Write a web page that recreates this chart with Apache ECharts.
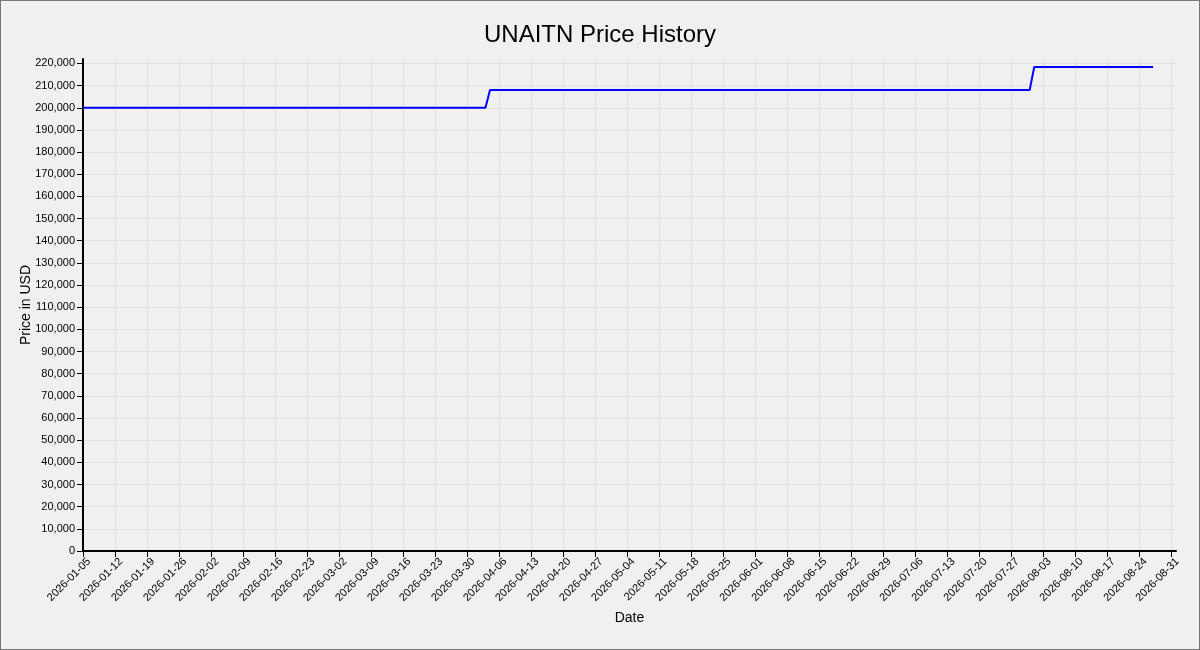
<!DOCTYPE html>
<html>
<head>
<meta charset="utf-8">
<script src="https://cdn.jsdelivr.net/npm/echarts@6/dist/echarts.min.js"></script>
<style>
  html, body { margin: 0; padding: 0; background: #f0f0f0; }
  #frame { width: 1200px; height: 650px; box-sizing: border-box; border: 1px solid #777; position: relative; overflow: hidden; }
  #chart { position: absolute; left: -1px; top: -1px; width: 1200px; height: 650px; }
</style>
</head>
<body>
<div id="frame"><div id="chart"></div></div>
<script>
// ---- data ----
const dates = ['2026-01-05', '2026-04-03', '2026-04-04', '2026-07-31', '2026-08-01', '2026-08-27'];
const prices = [200000, 200000, 208000, 208000, 218400, 218400];

const xTickLabels = [
  '2026-01-05','2026-01-12','2026-01-19','2026-01-26','2026-02-02','2026-02-09','2026-02-16','2026-02-23',
  '2026-03-02','2026-03-09','2026-03-16','2026-03-23','2026-03-30','2026-04-06','2026-04-13','2026-04-20',
  '2026-04-27','2026-05-04','2026-05-11','2026-05-18','2026-05-25','2026-06-01','2026-06-08','2026-06-15',
  '2026-06-22','2026-06-29','2026-07-06','2026-07-13','2026-07-20','2026-07-27','2026-08-03','2026-08-10',
  '2026-08-17','2026-08-24','2026-08-31'
];
const yTicks = [0,10000,20000,30000,40000,50000,60000,70000,80000,90000,100000,110000,
  120000,130000,140000,150000,160000,170000,180000,190000,200000,210000,220000];

const xMin = '2026-01-05';
const xMax = '2026-09-01';
const yMax = 222000;

const FONT = "'Liberation Sans', Arial, Helvetica, sans-serif";

// day index counted from the first date (UTC, no time-zone drift)
function dayIndex(s) {
  const p = s.split('-').map(Number);
  const q = xMin.split('-').map(Number);
  return Math.round((Date.UTC(p[0], p[1] - 1, p[2]) - Date.UTC(q[0], q[1] - 1, q[2])) / 86400000);
}
function fmtDay(v) {
  const q = xMin.split('-').map(Number);
  const d = new Date(Date.UTC(q[0], q[1] - 1, q[2]) + Math.round(v) * 86400000);
  const mm = String(d.getUTCMonth() + 1).padStart(2, '0');
  const dd = String(d.getUTCDate()).padStart(2, '0');
  return d.getUTCFullYear() + '-' + mm + '-' + dd;
}

const seriesData = dates.map((d, i) => [dayIndex(d), prices[i]]);
const xTickValues = xTickLabels.map(dayIndex);

const chart = echarts.init(document.getElementById('chart'), null, { renderer: 'canvas' });
chart.setOption({
  animation: false,
  backgroundColor: '#f0f0f0',
  textStyle: { fontFamily: FONT },
  title: {
    text: 'UNAITN Price History',
    left: 'center',
    top: 18,
    textStyle: { fontFamily: FONT, fontSize: 24, fontWeight: 'normal', color: '#000' }
  },
  grid: { left: 83, right: 24, top: 59, bottom: 99, containLabel: false },
  xAxis: {
    type: 'value',
    min: dayIndex(xMin),
    max: dayIndex(xMax),
    name: 'Date',
    nameLocation: 'middle',
    nameGap: 60,
    nameMoveOverlap: false,
    nameTextStyle: { fontFamily: FONT, fontSize: 14, color: '#000' },
    axisLine: { show: true, onZero: false, lineStyle: { color: '#000', width: 2 } },
    axisTick: { show: true, length: 6, lineStyle: { color: '#000', width: 1 }, customValues: xTickValues },
    axisLabel: {
      customValues: xTickValues,
      rotate: 45,
      margin: 7,
      verticalAlign: 'top',
      padding: [0, -3, 0, 0],
      fontFamily: FONT,
      fontSize: 11,
      color: '#000',
      formatter: function (v) { return fmtDay(v); }
    },
    splitLine: { show: true, lineStyle: { color: '#e0e0e0', width: 1 } }
  },
  yAxis: {
    type: 'value',
    min: 0,
    max: yMax,
    name: 'Price in USD',
    nameLocation: 'middle',
    nameGap: 50,
    nameMoveOverlap: false,
    nameRotate: 90,
    nameTextStyle: { fontFamily: FONT, fontSize: 14, color: '#000' },
    axisLine: { show: true, onZero: false, lineStyle: { color: '#000', width: 2 } },
    axisTick: { show: true, length: 6, lineStyle: { color: '#000', width: 1 }, customValues: yTicks },
    axisLabel: {
      customValues: yTicks,
      margin: 8,
      fontFamily: FONT,
      fontSize: 11,
      color: '#000',
      formatter: function (v) { return v.toLocaleString('en-US'); }
    },
    splitLine: { show: true, lineStyle: { color: '#e0e0e0', width: 1 } }
  },
  series: [{
    type: 'line',
    data: seriesData,
    showSymbol: false,
    symbol: 'none',
    lineStyle: { color: '#0000ff', width: 2 },
    itemStyle: { color: '#0000ff' }
  }]
});
</script>
</body>
</html>
